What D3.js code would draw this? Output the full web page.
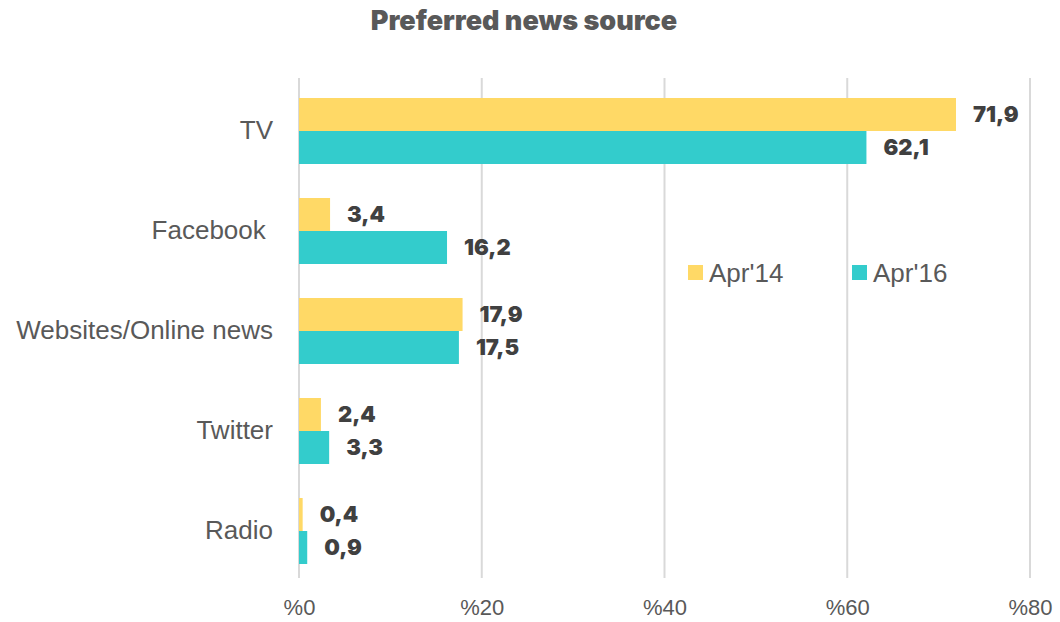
<!DOCTYPE html>
<html>
<head>
<meta charset="utf-8">
<script src="https://cdn.jsdelivr.net/npm/d3@7"></script>
<style>
  body { margin: 0; background: #fff; }
  svg text { white-space: pre; }
</style>
</head>
<body>
<svg id="chart" width="1060" height="622"></svg>
<script>
// Preferred news source, share of respondents (%)
const categories = ["TV", "Facebook ", "Websites/Online news", "Twitter", "Radio"];
const seriesNames = ["Apr'14", "Apr'16"];
const apr14 = [71.9, 3.4, 17.9, 2.4, 0.4];
const apr16 = [62.1, 16.2, 17.5, 3.3, 0.9];
const xTicks = [0, 20, 40, 60, 80];
const colors = ["#FFD966", "#33CCCC"];

const svg = d3.select("#chart");
const margin = { top: 81, right: 30, bottom: 41, left: 299 };
const W = 1060, H = 622;

const x = d3.scaleLinear().domain([0, 80]).range([margin.left, 1030]);
const y = d3.scaleBand().domain(categories).range([margin.top, H - margin.bottom]).paddingInner(0.34).paddingOuter(0.17);
const ySub = d3.scaleBand().domain(seriesNames).range([0, y.bandwidth()]);

// title
svg.append("text")
  .attr("x", 524).attr("y", 30)
  .attr("text-anchor", "middle")
  .attr("font-family", "Inter, 'DejaVu Sans', sans-serif")
  .attr("font-weight", 900)
  .attr("font-size", 27)
  .attr("fill", "#595959")
  .text("Preferred news source");

// vertical gridlines
const grid = svg.append("g").attr("class", "grid");
grid.selectAll("line").data(xTicks).join("line")
  .attr("x1", d => x(d)).attr("x2", d => x(d))
  .attr("y1", 78).attr("y2", 578)
  .attr("stroke", "#D9D9D9").attr("stroke-width", 2);

// x axis labels
const xAxis = d3.axisBottom(x).tickValues(xTicks).tickSize(0).tickFormat(d => "%" + d);
const gx = svg.append("g").attr("transform", `translate(0, 596)`).call(xAxis);
gx.select(".domain").remove();
gx.selectAll("text")
  .attr("font-family", "'Liberation Sans', Arial, sans-serif")
  .attr("font-size", 22)
  .attr("fill", "#595959")
  .attr("dy", "0.71em");

// y axis category labels
const yAxis = d3.axisLeft(y).tickSize(0).tickPadding(26);
const gy = svg.append("g").attr("transform", `translate(${margin.left}, 0)`).call(yAxis);
gy.select(".domain").remove();
gy.selectAll("text")
  .attr("font-family", "'Liberation Sans', Arial, sans-serif")
  .attr("font-size", 26)
  .attr("fill", "#595959");

// bars
const rows = categories.map((c, i) => ({ cat: c, vals: [apr14[i], apr16[i]] }));
const groups = svg.append("g").selectAll("g").data(rows).join("g")
  .attr("transform", d => `translate(0, ${y(d.cat)})`);

groups.selectAll("rect").data(d => d.vals.map((v, k) => ({ v, k })))
  .join("rect")
  .attr("x", x(0))
  .attr("y", d => ySub(seriesNames[d.k]))
  .attr("width", d => x(d.v) - x(0))
  .attr("height", ySub.bandwidth())
  .attr("fill", d => colors[d.k]);

groups.selectAll("text.val").data(d => d.vals.map((v, k) => ({ v, k })))
  .join("text")
  .attr("class", "val")
  .attr("x", d => x(d.v) + 17)
  .attr("y", d => ySub(seriesNames[d.k]) + ySub.bandwidth() / 2)
  .attr("dy", "0.36em")
  .attr("font-family", "Inter, 'DejaVu Sans', sans-serif")
  .attr("font-weight", 900)
  .attr("font-size", 22)
  .attr("fill", "#404040")
  .text(d => d3.format(".1f")(d.v).replace(".", ","));

// legend
const legend = svg.append("g");
const legendX = [688, 852];
seriesNames.forEach((s, i) => {
  legend.append("rect")
    .attr("x", legendX[i]).attr("y", 265)
    .attr("width", 15).attr("height", 15)
    .attr("fill", colors[i]);
  legend.append("text")
    .attr("x", legendX[i] + 21).attr("y", 273)
    .attr("dy", "0.36em")
    .attr("font-family", "'Liberation Sans', Arial, sans-serif")
    .attr("font-size", 26)
    .attr("fill", "#595959")
    .text(s);
});
</script>
</body>
</html>
